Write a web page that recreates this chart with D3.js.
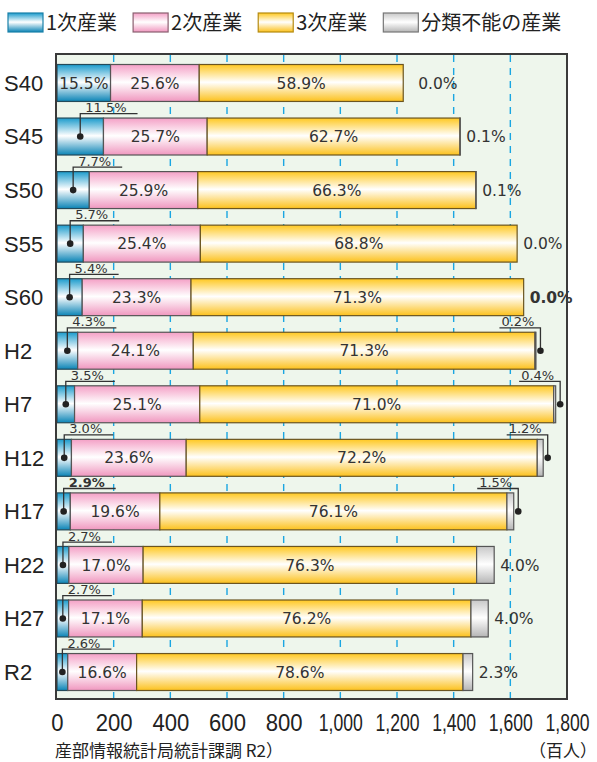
<!DOCTYPE html>
<html>
<head>
<meta charset="utf-8">
<script src="https://cdn.jsdelivr.net/npm/d3@7"></script>
<style>
  body { margin: 0; background: #fff; }
  svg { display: block; }
</style>
</head>
<body>
<div id="chart"></div>
<script>
// 産業別就業者数（百人）
const categories = ["S40", "S45", "S50", "S55", "S60", "H2", "H7", "H12", "H17", "H22", "H27", "R2"];
const seriesNames = ["1次産業", "2次産業", "3次産業", "分類不能の産業"];

const primary      = [189, 164, 114, 93, 89, 73, 62, 51, 47, 42, 41, 38];
const secondary    = [313, 366, 383, 413, 384, 408, 442, 405, 316, 262, 260, 243];
const tertiary     = [720, 892, 981, 1118, 1174, 1206, 1249, 1239, 1225, 1177, 1160, 1152];
const unclassified = [0, 1.4, 1.5, 0, 0, 3.4, 7, 21, 24, 62, 61, 34];

const primaryPct      = ["15.5%", "11.5%", "7.7%", "5.7%", "5.4%", "4.3%", "3.5%", "3.0%", "2.9%", "2.7%", "2.7%", "2.6%"];
const secondaryPct    = ["25.6%", "25.7%", "25.9%", "25.4%", "23.3%", "24.1%", "25.1%", "23.6%", "19.6%", "17.0%", "17.1%", "16.6%"];
const tertiaryPct     = ["58.9%", "62.7%", "66.3%", "68.8%", "71.3%", "71.3%", "71.0%", "72.2%", "76.1%", "76.3%", "76.2%", "78.6%"];
const unclassifiedPct = ["0.0%", "0.1%", "0.1%", "0.0%", "0.0%", "0.2%", "0.4%", "1.2%", "1.5%", "4.0%", "4.0%", "2.3%"];

const xTicks = [0, 200, 400, 600, 800, 1000, 1200, 1400, 1600, 1800];
const gridTicks = [200, 400, 600, 800, 1000, 1200, 1400, 1600];

const width = 597, height = 762;
const pctFont = "'DejaVu Sans', sans-serif";
const latinFont = "'Liberation Sans', Arial, sans-serif";
const jpFont = "'Noto Sans CJK JP', sans-serif";

const svg = d3.select("#chart").append("svg")
  .attr("width", width)
  .attr("height", height);

// gradients (colour at top and bottom, white in the middle)
const grads = [
  { id: "g0", top: "#1b9bcc", bot: "#0b84b6", stroke: "#234a5a", legendStroke: "#1a80a8" },
  { id: "g1", top: "#f4a0c6", bot: "#f097bf", stroke: "#555555", legendStroke: "#8a6070" },
  { id: "g2", top: "#ffc821", bot: "#fcc11c", stroke: "#6b5520", legendStroke: "#b58a10" },
  { id: "g3", top: "#c8c8c8", bot: "#b5b5b5", stroke: "#555555", legendStroke: "#777777" }
];
const defs = svg.append("defs");
grads.forEach(g => {
  const lg = defs.append("linearGradient")
    .attr("id", g.id)
    .attr("x1", 0).attr("y1", 0).attr("x2", 0).attr("y2", 1);
  lg.append("stop").attr("offset", "0%").attr("stop-color", g.top);
  lg.append("stop").attr("offset", "48%").attr("stop-color", "#ffffff");
  lg.append("stop").attr("offset", "100%").attr("stop-color", g.bot);
});

// Scales
const x = d3.scaleLinear().domain([0, 1800]).range([57, 567]);
const y = d3.scaleBand().domain(categories).range([56.2, 698.8])
  .paddingInner(0.31).paddingOuter(0.155);

// plot background
svg.append("rect")
  .attr("x", 56).attr("y", 54)
  .attr("width", 511).attr("height", 645)
  .attr("fill", "#eef6ec");

// grid
svg.selectAll(".grid")
  .data(gridTicks)
  .enter()
  .append("line")
  .attr("class", "grid")
  .attr("x1", d => x(d)).attr("x2", d => x(d))
  .attr("y1", 55).attr("y2", 698)
  .attr("stroke", "#1aa6e2")
  .attr("stroke-width", 1.4)
  .attr("stroke-dasharray", "7,6");

// stack
const rows = categories.map((c, i) => ({
  cat: c,
  vals: [primary[i], secondary[i], tertiary[i], unclassified[i]],
  pcts: [primaryPct[i], secondaryPct[i], tertiaryPct[i], unclassifiedPct[i]]
}));
const stack = d3.stack().keys([0, 1, 2, 3]).value((d, k) => d.vals[k]);
const layers = stack(rows);

const g = svg.append("g");
layers.forEach((layer, k) => {
  g.selectAll(".seg" + k)
    .data(layer)
    .enter()
    .append("rect")
    .attr("x", d => x(d[0]))
    .attr("y", d => y(d.data.cat))
    .attr("width", d => Math.max(0, x(d[1]) - x(d[0])))
    .attr("height", y.bandwidth())
    .attr("fill", `url(#${grads[k].id})`)
    .attr("stroke", d => (d[1] - d[0]) > 0 ? grads[k].stroke : "none")
    .attr("stroke-width", 1.2);
});

// inside labels: 2次, 3次 always; 1次 only first row
const inside = svg.append("g")
  .attr("font-family", pctFont)
  .attr("font-size", "15.5px")
  .attr("fill", "#333");
layers.forEach((layer, k) => {
  if (k === 3) return;
  layer.forEach((d, i) => {
    if (k === 0 && i !== 0) return;
    inside.append("text")
      .attr("x", (x(d[0]) + x(d[1])) / 2)
      .attr("y", y(d.data.cat) + y.bandwidth() / 2)
      .attr("dy", "0.36em")
      .attr("text-anchor", "middle")
      .text(d.data.pcts[k]);
  });
});

// callouts for 1次産業 (above the bar, left)
const boldLabels = new Set(["H17-0", "S60-3"]);
const call = svg.append("g");
layers[0].forEach((d, i) => {
  if (i === 0) return;
  const cx = (x(d[0]) + x(d[1])) / 2;
  const cy = y(d.data.cat) + y.bandwidth() / 2;
  const ly = y(d.data.cat) - 4.4;
  const t = call.append("text")
    .attr("x", cx + 5)
    .attr("y", ly - 1.5)
    .attr("font-family", pctFont)
    .attr("font-size", "13px")
    .attr("font-weight", boldLabels.has(d.data.cat + "-0") ? "bold" : "normal")
    .attr("fill", "#333")
    .text(d.data.pcts[0]);
  const tw = t.node().getComputedTextLength();
  call.append("path")
    .attr("d", `M${cx},${cy}V${ly}H${cx + 5 + tw + 11}`)
    .attr("fill", "none")
    .attr("stroke", "#333")
    .attr("stroke-width", 1.3);
  call.append("circle").attr("cx", cx).attr("cy", cy).attr("r", 3.3).attr("fill", "#222");
});

// 分類不能 labels
const calloutRows = new Set(["H2", "H7", "H12", "H17"]);
layers[3].forEach((d, i) => {
  const cat = d.data.cat;
  const end = x(d[1]);
  const cy = y(cat) + y.bandwidth() / 2;
  const bold = boldLabels.has(cat + "-3") ? "bold" : "normal";
  if (calloutRows.has(cat)) {
    const dx = end + 4.5;
    const ly = y(cat) - 4.4;
    call.append("text")
      .attr("x", dx - 6)
      .attr("y", ly - 1.5)
      .attr("text-anchor", "end")
      .attr("font-family", pctFont)
      .attr("font-size", "13px")
      .attr("fill", "#333")
      .text(d.data.pcts[3]);
    call.append("path")
      .attr("d", `M${dx},${cy}V${ly}H${dx - 41}`)
      .attr("fill", "none")
      .attr("stroke", "#333")
      .attr("stroke-width", 1.3);
    call.append("circle").attr("cx", dx).attr("cy", cy).attr("r", 3.3).attr("fill", "#222");
  } else {
    call.append("text")
      .attr("x", end + (i === 0 ? 15 : 6))
      .attr("y", cy)
      .attr("dy", "0.36em")
      .attr("font-family", pctFont)
      .attr("font-size", "15.5px")
      .attr("font-weight", bold)
      .attr("fill", "#333")
      .text(d.data.pcts[3]);
  }
});

// frame
svg.append("rect")
  .attr("x", 56).attr("y", 54)
  .attr("width", 511).attr("height", 645)
  .attr("fill", "none")
  .attr("stroke", "#3a3a3a")
  .attr("stroke-width", 2);

// category labels
svg.selectAll(".cat")
  .data(categories)
  .enter()
  .append("text")
  .attr("x", 4)
  .attr("y", d => y(d) + y.bandwidth() / 2)
  .attr("dy", "0.36em")
  .attr("font-family", latinFont)
  .attr("font-size", "22px")
  .attr("fill", "#222")
  .text(d => d);

// x axis (narrow numerals, squeezed horizontally)
const xAxis = svg.append("g")
  .attr("transform", "translate(0,699)")
  .call(d3.axisBottom(x).tickValues(xTicks).tickFormat(d3.format(",")).tickSize(0));
xAxis.select(".domain").remove();
xAxis.selectAll("text")
  .attr("y", 0)
  .attr("dy", 0)
  .attr("font-family", latinFont)
  .attr("font-size", "24px")
  .attr("fill", "#222")
  .attr("transform", function() {
    const s = this.textContent;
    const target = s.length <= 3 ? 12.3 * s.length : 44;
    const sx = target / this.getComputedTextLength();
    return `translate(0,32) scale(${sx},1)`;
  });

// unit
svg.append("text")
  .attr("x", 597).attr("y", 757)
  .attr("text-anchor", "end")
  .attr("font-family", jpFont)
  .attr("font-size", "17px")
  .attr("fill", "#222")
  .text("（百人）");

// source
svg.append("text")
  .attr("x", 283).attr("y", 757)
  .attr("text-anchor", "end")
  .attr("font-family", jpFont)
  .attr("font-size", "17px")
  .attr("fill", "#222")
  .text("産部情報統計局統計課調 R2）");

// legend
const legend = svg.append("g");
let lx = 8;
seriesNames.forEach((name, k) => {
  legend.append("rect")
    .attr("x", lx).attr("y", 13)
    .attr("width", 35).attr("height", 19)
    .attr("fill", `url(#${grads[k].id})`)
    .attr("stroke", grads[k].legendStroke)
    .attr("stroke-width", 1.2);
  const t = legend.append("text")
    .attr("x", lx + 38).attr("y", 30)
    .attr("font-family", jpFont)
    .attr("font-size", "20px")
    .attr("fill", "#222")
    .text(name);
  lx += 38 + t.node().getComputedTextLength() + 16;
});
</script>
</body>
</html>
